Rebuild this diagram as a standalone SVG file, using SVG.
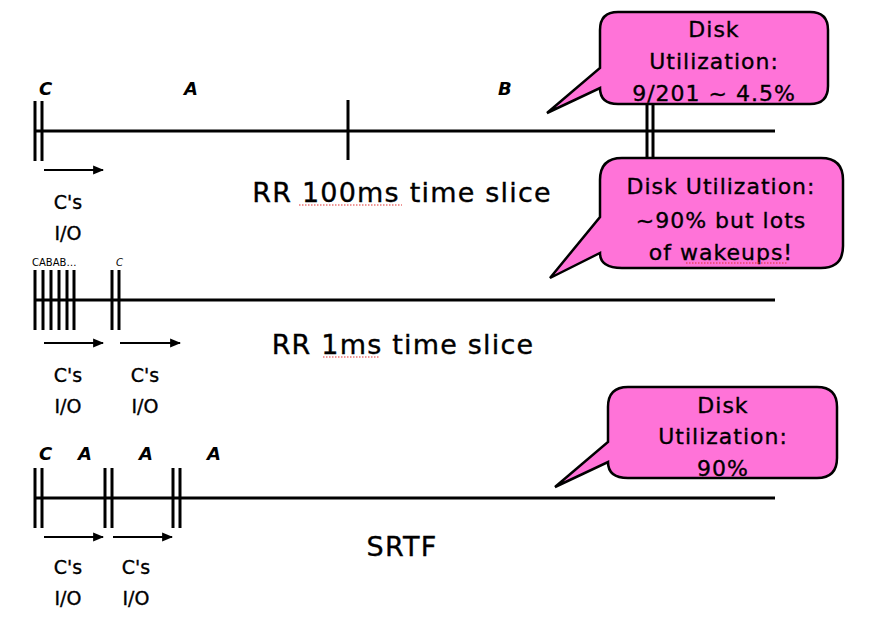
<svg xmlns="http://www.w3.org/2000/svg" width="870" height="630" viewBox="0 0 870 630">
<style>
text{font-family:"DejaVu Sans","Open Sans",sans-serif;fill:#000;stroke:#000;stroke-width:0.35}
.lbl{font-size:18px;font-style:italic;font-weight:bold;stroke-width:0}
.io{font-size:19px;text-anchor:middle}
.title{font-size:27px;letter-spacing:1.2px;text-anchor:middle}
.bt{font-size:22px;letter-spacing:1px;text-anchor:middle}
.tl{stroke:#000;stroke-width:3;fill:none}
.bar{stroke:#000;stroke-width:3}
.arr{stroke:#000;stroke-width:2.2;fill:none;marker-end:url(#ah)}
.bub{fill:#ff73d8;stroke:#000;stroke-width:2.5}
.sp{stroke:#e03030;stroke-width:1.2;stroke-dasharray:1.5 1.5}
</style>
<defs>
<marker id="ah" viewBox="0 0 10 10" refX="9" refY="5" markerWidth="5" markerHeight="5" orient="auto" markerUnits="strokeWidth">
<path d="M0,1 L10,5 L0,9 Z" fill="#000"/>
</marker>
</defs>

<g id="connectors">
<line class="tl" x1="35" y1="131" x2="775" y2="131"/>
<line class="tl" x1="35" y1="300" x2="775" y2="300"/>
<line class="tl" x1="35" y1="498" x2="775" y2="498"/>
<line class="arr" x1="44" y1="170" x2="103" y2="170"/>
<line class="arr" x1="44" y1="343" x2="103" y2="343"/>
<line class="arr" x1="120" y1="343" x2="180" y2="343"/>
<line class="arr" x1="44" y1="537" x2="103" y2="537"/>
<line class="arr" x1="113" y1="537" x2="172" y2="537"/>
</g>

<g id="timeline-rr100">
<line class="bar" x1="35" y1="101" x2="35" y2="161"/>
<line class="bar" x1="42" y1="101" x2="42" y2="161"/>
<line class="bar" x1="348" y1="100" x2="348" y2="160"/>
<line class="bar" x1="647" y1="104" x2="647" y2="158"/>
<line class="bar" x1="653" y1="104" x2="653" y2="158"/>
<text class="lbl" x="39" y="95">C</text>
<text class="lbl" x="184" y="95">A</text>
<text class="lbl" x="498" y="95">B</text>
<text class="io" x="68" y="209">C's</text>
<text class="io" x="68" y="240">I/O</text>
<text class="title" x="402" y="202">RR 100ms time slice</text>
<line class="sp" x1="299" y1="205" x2="402" y2="205"/>
</g>

<g id="timeline-rr1">
<line class="bar" x1="35" y1="270" x2="35" y2="330"/>
<line class="bar" x1="43" y1="270" x2="43" y2="330"/>
<line class="bar" x1="51" y1="270" x2="51" y2="330"/>
<line class="bar" x1="59" y1="270" x2="59" y2="330"/>
<line class="bar" x1="67" y1="270" x2="67" y2="330"/>
<line class="bar" x1="74" y1="270" x2="74" y2="330"/>
<line class="bar" x1="112" y1="270" x2="112" y2="330"/>
<line class="bar" x1="119" y1="270" x2="119" y2="330"/>
<text x="32" y="266" style="font-size:10px;stroke-width:0">CABAB…</text>
<text x="116" y="266" style="font-size:10px;font-style:italic;stroke-width:0">C</text>
<text class="io" x="68" y="382">C's</text>
<text class="io" x="145" y="382">C's</text>
<text class="io" x="68" y="413">I/O</text>
<text class="io" x="145" y="413">I/O</text>
<text class="title" x="403" y="354">RR 1ms time slice</text>
<line class="sp" x1="323" y1="357" x2="380" y2="357"/>
</g>

<g id="timeline-srtf">
<line class="bar" x1="35" y1="468" x2="35" y2="528"/>
<line class="bar" x1="42" y1="468" x2="42" y2="528"/>
<line class="bar" x1="105" y1="468" x2="105" y2="528"/>
<line class="bar" x1="112" y1="468" x2="112" y2="528"/>
<line class="bar" x1="173" y1="468" x2="173" y2="528"/>
<line class="bar" x1="180" y1="468" x2="180" y2="528"/>
<text class="lbl" x="39" y="460">C</text>
<text class="lbl" x="78" y="460">A</text>
<text class="lbl" x="139" y="460">A</text>
<text class="lbl" x="207" y="460">A</text>
<text class="io" x="68" y="574">C's</text>
<text class="io" x="136" y="574">C's</text>
<text class="io" x="68" y="605">I/O</text>
<text class="io" x="136" y="605">I/O</text>
<text class="title" x="402" y="556">SRTF</text>
</g>

<g id="bubble-1">
<path class="bub" d="M618,12 H810 Q828,12 828,30 V86 Q828,104 810,104 H618 Q600,104 600,88 L547,113 L600,68 V30 Q600,12 618,12 Z"/>
<text class="bt" x="714" y="37">Disk</text>
<text class="bt" x="714" y="69">Utilization:</text>
<text class="bt" x="714" y="101">9/201 ~ 4.5%</text>
</g>

<g id="bubble-2">
<path class="bub" d="M622,158 H821 Q843,158 843,180 V246 Q843,268 821,268 H622 Q600,268 600,253 L550,278 L600,217 V180 Q600,158 622,158 Z"/>
<text class="bt" x="721" y="194">Disk Utilization:</text>
<text class="bt" x="721" y="228">~90% but lots</text>
<text class="bt" x="721" y="260">of wakeups!</text>
<line class="sp" x1="686" y1="263" x2="788" y2="263"/>
</g>

<g id="bubble-3">
<path class="bub" d="M628,387 H817 Q837,387 837,407 V458 Q837,478 817,478 H628 Q608,478 608,462 L555,487 L608,442 V407 Q608,387 628,387 Z"/>
<text class="bt" x="723" y="413">Disk</text>
<text class="bt" x="723" y="444">Utilization:</text>
<text class="bt" x="723" y="476">90%</text>
</g>
</svg>
